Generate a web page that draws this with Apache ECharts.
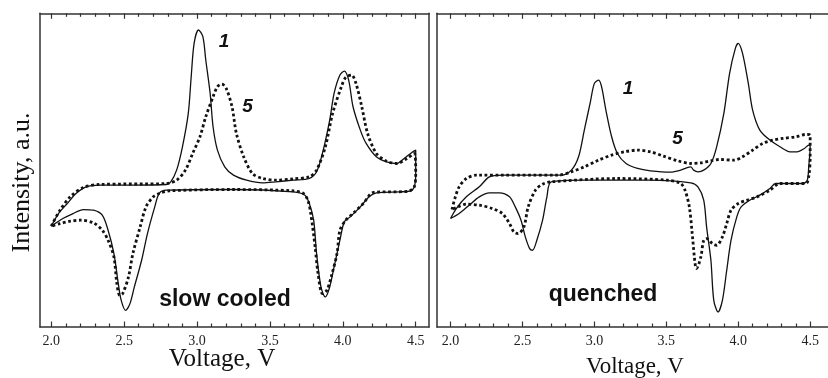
<!DOCTYPE html>
<html><head><meta charset="utf-8">
<script src="https://cdn.jsdelivr.net/npm/echarts@6/dist/echarts.min.js"></script>
<style>html,body{margin:0;padding:0;background:#fff}#c{width:828px;height:378px}</style>
</head><body><div id="c"></div>
<script>
// ---- tick labels ----
const majorTicks = [2.0, 2.5, 3.0, 3.5, 4.0, 4.5];
const minorTicks = [2.1, 2.2, 2.3, 2.4, 2.6, 2.7, 2.8, 2.9, 3.1, 3.2, 3.3, 3.4, 3.6, 3.7, 3.8, 3.9, 4.1, 4.2, 4.3, 4.4];

// ---- slow cooled, cycle 1 (solid) ----
const slowV1 = [2.00,2.05,2.11,2.17,2.24,2.33,2.56,2.79,2.82,2.86,2.90,2.94,2.96,2.98,3.01,3.04,3.06,3.09,3.11,3.14,3.19,3.25,3.34,3.45,3.54,3.66,3.77,3.82,3.86,3.91,3.94,3.98,4.01,4.04,4.07,4.12,4.16,4.23,4.30,4.37,4.42,4.48,4.50,
  4.50,4.49,4.46,4.39,4.23,4.18,4.12,4.05,4.01,3.98,3.94,3.91,3.88,3.85,3.82,3.80,3.77,3.74,3.66,3.25,2.79,2.74,2.71,2.66,2.62,2.57,2.54,2.51,2.48,2.46,2.43,2.39,2.35,2.29,2.22,2.15,2.08,2.00];
const slowI1 = [30.2,34.0,37.0,40.0,42.0,42.5,42.5,42.7,43.5,47.0,54.0,64.0,75.0,85.0,89.0,87.0,80.0,70.0,60.0,53.0,48.0,45.5,44.0,43.2,43.5,44.0,44.5,46.5,52.0,62.0,70.0,75.5,76.7,74.0,66.0,59.0,55.0,51.0,49.5,49.0,50.5,52.5,53.0,
  46.0,42.0,40.7,40.5,40.2,39.0,36.0,33.0,31.5,26.0,18.0,12.0,9.0,12.0,22.0,32.0,37.0,39.5,40.5,41.2,41.0,40.0,36.0,28.0,20.0,12.0,7.0,5.0,8.0,13.0,22.0,29.0,33.5,35.0,35.2,34.0,32.5,30.2];

// ---- slow cooled, cycle 5 (dotted) ----
const slowV5 = [2.00,2.06,2.13,2.22,2.33,2.79,2.86,2.92,2.97,3.02,3.06,3.11,3.14,3.17,3.20,3.24,3.27,3.32,3.38,3.45,3.54,3.66,3.77,3.82,3.88,3.93,3.99,4.02,4.06,4.09,4.13,4.17,4.23,4.30,4.37,4.44,4.49,
  4.50,4.49,4.45,4.21,4.14,4.07,4.02,3.98,3.96,3.92,3.89,3.86,3.83,3.81,3.78,3.76,3.73,3.66,3.25,2.81,2.74,2.70,2.65,2.61,2.56,2.53,2.49,2.47,2.45,2.43,2.39,2.35,2.29,2.20,2.13,2.06,2.00];
const slowI5 = [30.2,35.0,39.0,41.8,42.7,43.0,44.0,47.0,52.0,57.0,63.0,69.0,72.0,72.8,71.5,66.0,58.0,51.0,46.0,44.5,44.0,44.4,45.0,47.0,54.0,64.0,72.0,74.8,75.5,73.0,66.0,58.0,52.0,49.7,49.0,50.5,52.0,
  46.0,42.0,40.7,40.3,37.0,34.0,32.0,29.0,22.0,15.0,11.0,10.0,16.0,24.0,34.0,38.0,40.0,40.8,41.2,40.8,40.0,39.0,36.0,30.0,22.0,15.0,10.0,9.5,13.0,21.0,26.0,29.0,31.2,32.0,31.7,31.0,30.2];

// ---- quenched, cycle 1 (solid) ----
const quenchV1 = [2.00,2.04,2.11,2.20,2.27,2.36,2.77,2.84,2.89,2.93,2.97,3.00,3.03,3.05,3.08,3.12,3.16,3.22,3.30,3.39,3.53,3.60,3.64,3.67,3.69,3.72,3.76,3.81,3.85,3.90,3.94,3.98,4.00,4.03,4.07,4.10,4.15,4.22,4.29,4.36,4.41,4.46,4.49,4.50,
  4.49,4.48,4.45,4.26,4.22,4.15,4.08,4.02,3.99,3.95,3.92,3.89,3.86,3.83,3.81,3.78,3.76,3.72,3.67,3.39,2.93,2.70,2.67,2.64,2.60,2.57,2.55,2.52,2.49,2.45,2.41,2.34,2.27,2.20,2.13,2.06,2.00];
const quenchI1 = [32.5,35.5,39.0,42.0,45.0,45.5,45.5,47.0,51.0,59.0,67.0,73.0,74.0,72.0,65.0,57.0,52.0,49.0,47.5,46.8,46.4,47.0,47.7,48.0,47.0,46.5,47.0,49.0,54.0,64.0,76.0,83.5,85.0,82.0,73.0,65.0,59.0,56.0,54.0,52.5,52.5,53.5,54.5,54.0,
  48.0,44.0,43.0,43.0,41.5,39.5,38.0,36.0,33.0,26.0,17.0,8.0,4.5,8.0,20.0,30.0,38.0,42.0,43.2,44.0,44.0,43.5,39.0,32.0,26.0,23.0,23.5,27.0,32.0,36.0,39.0,40.2,40.2,39.0,36.5,34.0,32.5];

// ---- quenched, cycle 5 (dotted) ----
const quenchV5 = [2.01,2.03,2.06,2.11,2.18,2.75,2.84,2.93,3.03,3.12,3.21,3.30,3.39,3.48,3.58,3.67,3.74,3.81,3.87,3.97,4.03,4.10,4.17,4.24,4.31,4.40,4.47,4.50,
  4.50,4.49,4.47,4.29,4.22,4.13,4.06,4.00,3.95,3.92,3.89,3.85,3.82,3.78,3.76,3.74,3.71,3.70,3.68,3.66,3.63,3.60,3.51,3.16,2.70,2.64,2.59,2.54,2.51,2.47,2.44,2.41,2.36,2.29,2.20,2.11,2.05,2.01];
const quenchI5 = [35.2,38.5,42.0,44.5,45.5,45.5,46.5,48.0,50.0,51.5,52.5,53.0,52.5,51.2,49.8,49.0,49.2,49.8,50.2,50.0,51.0,53.0,55.0,56.0,56.5,57.0,57.7,57.5,
  51.0,45.0,43.0,43.0,41.0,39.0,38.0,37.0,35.0,31.0,27.0,24.5,25.0,26.5,26.0,21.0,17.5,19.0,28.0,36.0,41.0,43.0,44.0,44.5,43.5,42.8,41.0,36.0,30.0,28.0,28.5,31.0,34.0,35.5,36.5,36.8,36.0,35.2];

const zip = (a, b) => a.map((v, i) => [v, b[i]]);

const SERIF = "'Liberation Serif', 'Times New Roman', serif";
const SANS = "'Liberation Sans', Arial, sans-serif";
const AXC = '#333';

const ranges = [[1.923, 4.591], [1.906, 4.624]];

function xAx(gi, pos, ticks, len, line, label) {
  return {
    type: 'value', gridIndex: gi, position: pos, min: ranges[gi][0], max: ranges[gi][1],
    axisLine: { show: line, onZero: false, lineStyle: { color: AXC, width: 1.5 } },
    axisTick: { show: true, inside: true, length: len, customValues: ticks, lineStyle: { color: AXC, width: 1.2 } },
    axisLabel: label ? { show: true, customValues: majorTicks, margin: 7, fontSize: 14, fontFamily: SERIF, color: '#222', formatter: v => v.toFixed(1) } : { show: false },
    splitLine: { show: false }
  };
}
function yAx(gi, pos, line) {
  return {
    type: 'value', gridIndex: gi, position: pos, min: 0, max: 94,
    axisLine: { show: line, onZero: false, lineStyle: { color: AXC, width: 1.5 } },
    axisTick: { show: false }, axisLabel: { show: false }, splitLine: { show: false }
  };
}
function ser(xi, yi, v, i, dotted) {
  return {
    type: 'line', xAxisIndex: xi, yAxisIndex: yi, data: zip(v, i), symbol: 'none', smooth: 0.3,
    silent: true, clip: true,
    lineStyle: dotted ? { color: '#111', width: 2.8, type: [2.8, 2.6] } : { color: '#111', width: 1.3 }
  };
}

const chart = echarts.init(document.getElementById('c'), null, { renderer: 'canvas' });
chart.setOption({
  animation: false,
  backgroundColor: '#fff',
  grid: [
    { left: 40, top: 13.3, width: 389, height: 313.7 },
    { left: 437, top: 13.3, width: 395, height: 313.7 }
  ],
  xAxis: [
    xAx(0, 'bottom', majorTicks, 5.5, true, true),
    xAx(0, 'bottom', minorTicks, 3.5, false, false),
    xAx(0, 'top', majorTicks, 5.5, true, false),
    xAx(0, 'top', minorTicks, 3.5, false, false),
    xAx(1, 'bottom', majorTicks, 5.5, true, true),
    xAx(1, 'bottom', minorTicks, 3.5, false, false),
    xAx(1, 'top', majorTicks, 5.5, true, false),
    xAx(1, 'top', minorTicks, 3.5, false, false)
  ],
  yAxis: [
    yAx(0, 'left', true),
    yAx(0, 'right', true),
    yAx(1, 'left', true)
  ],
  series: [
    ser(0, 0, slowV1, slowI1, false),
    ser(0, 0, slowV5, slowI5, true),
    ser(4, 2, quenchV1, quenchI1, false),
    ser(4, 2, quenchV5, quenchI5, true)
  ],
  graphic: [
    { type: 'text', x: 22.5, y: 182.5, rotation: Math.PI / 2, style: { text: 'Intensity, a.u.', font: '26px ' + SERIF, fill: '#111', align: 'center', verticalAlign: 'middle' } },
    { type: 'text', x: 222, y: 359, style: { text: 'Voltage, V', font: '25px ' + SERIF, fill: '#111', align: 'center', verticalAlign: 'middle' } },
    { type: 'text', x: 635, y: 367, style: { text: 'Voltage, V', font: '23px ' + SERIF, fill: '#111', align: 'center', verticalAlign: 'middle' } },
    { type: 'text', x: 224, y: 42, style: { text: '1', font: 'italic bold 19px ' + SANS, fill: '#111', align: 'center', verticalAlign: 'middle' } },
    { type: 'text', x: 247.5, y: 106.5, style: { text: '5', font: 'italic bold 19px ' + SANS, fill: '#111', align: 'center', verticalAlign: 'middle' } },
    { type: 'text', x: 628, y: 89, style: { text: '1', font: 'italic bold 19px ' + SANS, fill: '#111', align: 'center', verticalAlign: 'middle' } },
    { type: 'text', x: 677.5, y: 138.5, style: { text: '5', font: 'italic bold 19px ' + SANS, fill: '#111', align: 'center', verticalAlign: 'middle' } },
    { type: 'text', x: 225, y: 300, style: { text: 'slow cooled', font: 'bold 23px ' + SANS, fill: '#111', align: 'center', verticalAlign: 'middle' } },
    { type: 'text', x: 603, y: 295, style: { text: 'quenched', font: 'bold 23px ' + SANS, fill: '#111', align: 'center', verticalAlign: 'middle' } }
  ]
});
</script>
</body></html>
